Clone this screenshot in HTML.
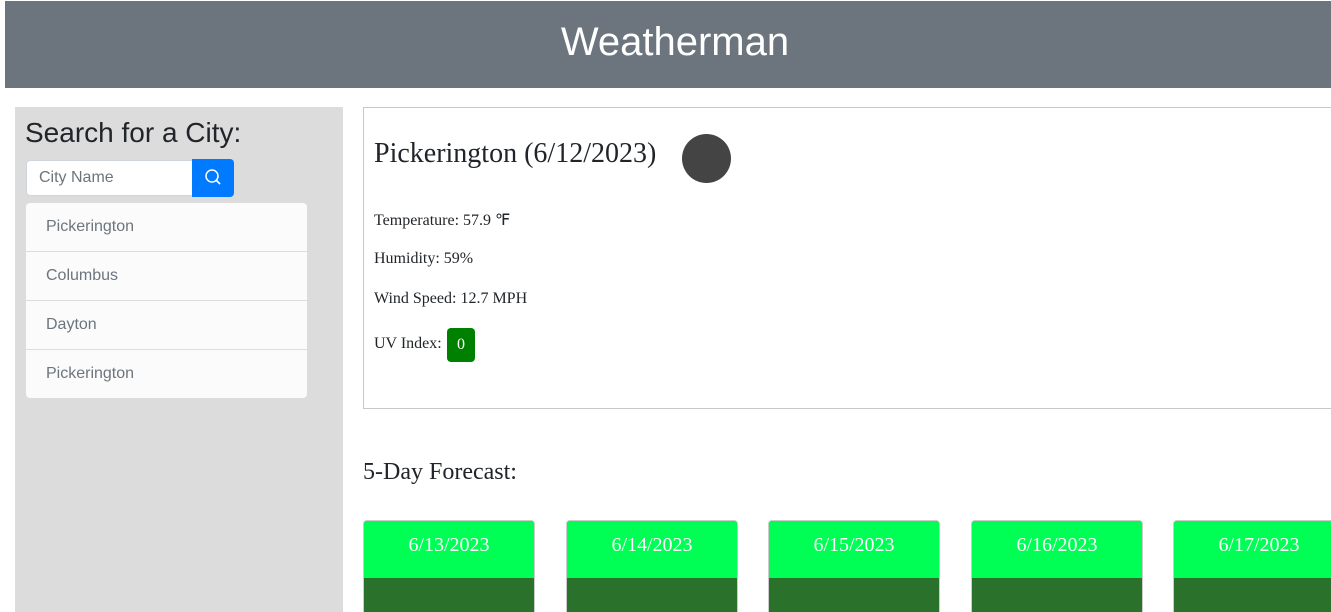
<!DOCTYPE html>
<html><head><meta charset="utf-8"><style>
*{box-sizing:border-box;margin:0;padding:0}
html,body{width:1331px;height:612px;overflow:hidden}
body{background:#fff;position:relative;font-family:"Liberation Serif",serif}
.abs{position:absolute}
.header{left:5px;top:1px;width:1340px;height:87px;background:#6c757d;color:#fff;font-family:"Liberation Sans",sans-serif;font-size:40px;text-align:center;line-height:82px}
.side{left:15px;top:107px;width:328px;height:505px;background:#dcdcdc}
.side h2{position:absolute;left:10px;top:10px;font-weight:400;font-family:"Liberation Sans",sans-serif;font-size:28px;color:#212529}
.inp{left:26px;top:160px;width:168px;height:36px;background:#fff;border:1px solid #ced4da;border-radius:4px 0 0 4px;font-family:"Liberation Sans",sans-serif;font-size:16px;color:#6c757d;padding:8px 12px}
.btn{left:192px;top:159px;width:42px;height:38px;background:#007bff;border-radius:0 4px 4px 0}
.list{left:26px;top:203px;width:281px;height:195px;background:#fbfbfb;border-radius:4px}
.li{position:absolute;left:0;width:281px;height:49px;font-family:"Liberation Sans",sans-serif;font-size:16px;color:#6c757d;padding:15px 20px;border-top:1px solid #ddd}
.main{left:363px;top:107px;width:980px;height:302px;border:1px solid #c8c8c8}
.main h2{position:absolute;left:10px;top:30px;font-weight:400;font-size:28px;color:#212529}
.icon{left:682px;top:134px;width:49px;height:49px;border-radius:50%;background:#444}
.p{position:absolute;left:374px;font-size:16px;color:#212529}
.uv{left:447px;top:328px;width:28px;height:34px;background:#008000;border-radius:4px;color:#fff;font-size:16px;text-align:center;line-height:34px}
.fc{left:363px;top:459px;font-size:24px;color:#212529}
.card{position:absolute;top:520px;width:172px;height:100px;border:1px solid #ccc;border-radius:4px;overflow:hidden;background:#2a722c}
.card .t{height:57px;background:#00ff55;color:#fff;font-size:20px;text-align:center;line-height:48px}
</style></head><body>
<div class="abs header">Weatherman</div>
<div class="abs side"><h2>Search for a City:</h2></div>
<div class="abs inp">City Name</div>
<div class="abs btn"><svg width="42" height="38"><circle cx="20" cy="17" r="6" stroke="#fff" stroke-width="1.5" fill="none"/><line x1="24.5" y1="21.5" x2="28" y2="25" stroke="#fff" stroke-width="1.8"/></svg></div>
<div class="abs list">
<div class="li" style="top:0;border-top:none">Pickerington</div>
<div class="li" style="top:48px">Columbus</div>
<div class="li" style="top:97px">Dayton</div>
<div class="li" style="top:146px">Pickerington</div>
</div>
<div class="abs main"><h2>Pickerington (6/12/2023)</h2></div>
<div class="abs icon"></div>
<div class="p" style="top:210px">Temperature: 57.9 ℉</div>
<div class="p" style="top:250px">Humidity: 59%</div>
<div class="p" style="top:290px">Wind Speed: 12.7 MPH</div>
<div class="p" style="top:335px">UV Index:</div>
<div class="abs uv">0</div>
<div class="abs fc">5-Day Forecast:</div>
<div class="card" style="left:363px"><div class="t">6/13/2023</div></div>
<div class="card" style="left:566px"><div class="t">6/14/2023</div></div>
<div class="card" style="left:768px"><div class="t">6/15/2023</div></div>
<div class="card" style="left:971px"><div class="t">6/16/2023</div></div>
<div class="card" style="left:1173px"><div class="t">6/17/2023</div></div>
</body></html>
